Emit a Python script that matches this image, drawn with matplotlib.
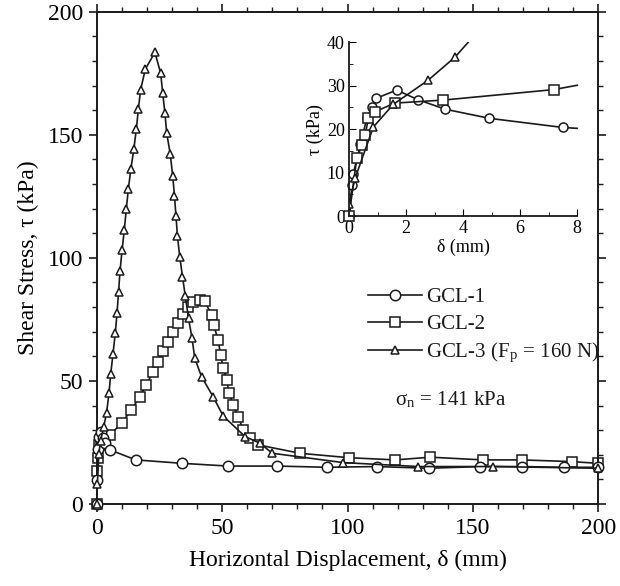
import numpy as np
import matplotlib
matplotlib.use('Agg')
import matplotlib.pyplot as plt
from matplotlib.ticker import MultipleLocator

plt.rcParams['font.family'] = ['Liberation Serif', 'DejaVu Serif']
plt.rcParams['mathtext.fontset'] = 'stix'
plt.rcParams['text.color'] = '#1a1a1a'

# Main plot data (mm, kPa)
gcl1_x = [0, 0.13, 0.62, 0.97, 1.67, 2.4, 3.4, 5.2, 15.6, 34.2, 52.4, 72, 91.7,
          111.6, 132.3, 152.9, 169.5, 186.2, 200]
gcl1_y = [0, 9.8, 22.5, 27.2, 29.2, 27, 24.8, 22, 17.9, 16.5, 15.4, 15.4, 14.9,
          15.2, 14.5, 15.2, 15.2, 14.9, 14.9]

gcl2_x = [0, 0.27, 0.56, 0.9, 1.6, 3.3, 5.2, 9.9, 13.8, 17.2, 19.8, 22.5, 24.5,
          26.5, 28.6, 30.5, 32.5, 34.4, 36.2, 38.5, 41.0, 43.0, 45.8, 46.6,
          48.4, 49.4, 50.4, 51.8, 52.8, 54.4, 56.4, 58.4, 61.0, 64.4, 81,
          100.5, 119, 133, 154, 169.5, 189.5, 200]
gcl2_y = [0, 13.3, 18.6, 24, 26, 26.7, 28, 32.8, 38.2, 43.6, 48.4, 53.8, 57.8,
          62, 66, 70, 73.5, 77, 80, 82, 83, 82.5, 76.8, 72.8,
          66.7, 60.6, 55.2, 50.4, 45, 40.2, 35.5, 30.1, 27, 24, 20.6,
          18.8, 17.9, 19, 17.9, 17.9, 17.2, 16.5]

gcl3_x = [0, 0.27, 0.85, 1.55, 2.78, 3.9, 4.9, 5.6, 6.5, 7.4, 8.1, 8.7, 9.3,
          10.1, 11.0, 11.8, 12.6, 13.6, 14.8, 15.8, 16.6, 17.5, 19.4, 23.2,
          25.5, 26.3, 27.2, 27.9, 29.3, 30.3, 31.0, 31.6, 32.2, 33.1, 34.2,
          35.3, 36.6, 38.0, 39.1, 41.8, 46.4, 50.4, 59.1, 65.1, 70, 98.3,
          128.3, 158.2, 200]
gcl3_y = [0, 8.2, 20.5, 25.7, 31.3, 36.9, 45, 53, 61, 69.4, 77.5, 86, 94.8,
          103, 111.4, 119.8, 127.9, 136, 144.2, 152.3, 160.4, 168.3, 176.7, 183.5,
          175, 167, 158.8, 150.7, 142.3, 133.3, 125.2, 117.1, 108.7, 100.5, 92.4,
          84.6, 75.5, 67.3, 59.2, 51.7, 43.6, 35.8, 27.4, 24.7, 20.6, 16.8,
          15.2, 15.2, 14.5]

# Inset data (first 8 mm)
in1_x = [0, 0.1, 0.15, 0.4, 0.62, 0.8, 0.95, 1.67, 2.41, 3.37, 4.92, 7.5, 8]
in1_y = [0, 7.1, 9.8, 16.5, 22.5, 25, 27.1, 29, 26.8, 24.6, 22.5, 20.4, 20.2]
in2_x = [0, 0.27, 0.45, 0.56, 0.68, 0.9, 1.6, 3.31, 7.17, 8]
in2_y = [0, 13.3, 16.3, 18.6, 22.5, 24, 26, 26.7, 29.1, 30.1]
in3_x = [0, 0.21, 0.85, 1.55, 2.78, 3.72, 4.22]
in3_y = [2.9, 8.7, 20.5, 25.7, 31.3, 36.6, 40.3]

labels = ['GCL-1', 'GCL-2', 'GCL-3 (F$_{\\mathregular{p}}$ = 160 N)']

fig = plt.figure(figsize=(6.2, 5.86), dpi=100)
ax = fig.add_axes([0.156, 0.140, 0.809, 0.840])

style = dict(color='#1a1a1a', lw=1.2, mfc='white', mec='#1a1a1a', mew=1.1,
             clip_on=False)
ax.plot(gcl1_x, gcl1_y, marker='o', ms=7.5, label=labels[0], **style, zorder=3)
ax.plot(gcl2_x, gcl2_y, marker='s', ms=7, label=labels[1], **style, zorder=2)
ax.plot(gcl3_x, gcl3_y, marker='^', ms=6, label=labels[2], **style, zorder=4)

ax.set_xlim(0, 200)
ax.set_ylim(0, 200)
ax.xaxis.set_major_locator(MultipleLocator(50))
ax.xaxis.set_minor_locator(MultipleLocator(10))
ax.yaxis.set_major_locator(MultipleLocator(50))
ax.yaxis.set_minor_locator(MultipleLocator(10))
ax.tick_params(which='both', direction='out', top=True, right=True,
               labelsize=17, color='#1a1a1a', pad=4)
ax.tick_params(which='major', length=6, width=1.2)
ax.tick_params(which='minor', length=3.5, width=1.0)
for s in ax.spines.values():
    s.set_linewidth(1.4)
    s.set_color('#1a1a1a')
ax.set_xlabel('Horizontal Displacement, δ (mm)', fontsize=17, labelpad=8)
ax.set_ylabel('Shear Stress, τ (kPa)', fontsize=17, labelpad=6)

leg = ax.legend(loc='upper left', bbox_to_anchor=(0.54, 0.44), frameon=False,
                fontsize=15, handlelength=2.6, handletextpad=0.2,
                labelspacing=0.35, borderpad=0, borderaxespad=0)
ax.text(0.595, 0.211, 'σ$_{\\mathregular{n}}$ = 141 kPa', transform=ax.transAxes,
        fontsize=15, va='center', ha='left')

# Inset
ins = fig.add_axes([0.563, 0.631, 0.368, 0.297])
ins.plot(in1_x, in1_y, marker='o', ms=6.5, markevery=slice(0, -1), **style)
ins.plot(in2_x, in2_y, marker='s', ms=6.5, markevery=slice(0, -1), **style)
ins.plot(in3_x, in3_y, marker='^', ms=5.5, markevery=slice(0, -1),
         color='#1a1a1a', lw=1.2, mfc='white', mec='#1a1a1a', mew=1.1)
ins.set_xlim(0, 8)
ins.set_ylim(0, 40)
ins.xaxis.set_major_locator(MultipleLocator(2))
ins.xaxis.set_minor_locator(MultipleLocator(1))
ins.yaxis.set_major_locator(MultipleLocator(10))
ins.yaxis.set_minor_locator(MultipleLocator(5))
ins.spines['top'].set_visible(False)
ins.spines['right'].set_visible(False)
for s in ['left', 'bottom']:
    ins.spines[s].set_linewidth(1.3)
    ins.spines[s].set_color('#1a1a1a')
ins.tick_params(which='both', direction='in', labelsize=13, pad=3)
ins.tick_params(which='major', length=5)
ins.tick_params(which='minor', length=3)
ins.set_xlabel('δ (mm)', fontsize=13, labelpad=1)
ins.set_ylabel('τ (kPa)', fontsize=13, labelpad=2)

fig.savefig('out.png', dpi=100)
